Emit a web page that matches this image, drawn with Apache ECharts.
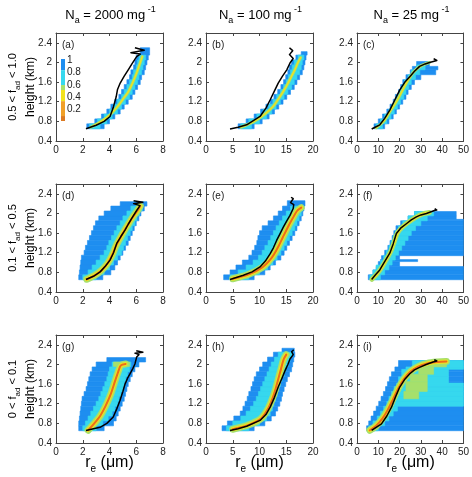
<!DOCTYPE html>
<html>
<head>
<meta charset="utf-8">
<script src="https://cdn.jsdelivr.net/npm/echarts@6/dist/echarts.min.js"></script>
<style>
  html, body { margin: 0; padding: 0; background: #fff; }
  #main { width: 472px; height: 477px; }
</style>
</head>
<body>
<div id="main"></div>
<script>
// column titles / row labels / panel letters
var colNa = ['2000', '100', '25'];
var rowFad = [['0.5', '1.0'], ['0.1', '0.5'], ['0', '0.1']];
var letters = ['(a)', '(b)', '(c)', '(d)', '(e)', '(f)', '(g)', '(h)', '(i)'];
var xMax = [8, 20, 50];
var xStep = [2, 5, 10];
var cbTicks = ['1', '0.8', '0.6', '0.4', '0.2'];

// histogram cells: [reLeft, reRight, hLow, hHigh]
var aBlue = [[2.3,3.6,0.65,0.75],[2.9,4.0,0.75,0.85],[3.4,4.4,0.85,0.95],[3.8,4.8,0.95,1.05],[4.1,5.1,1.05,1.15],[4.4,5.4,1.15,1.25],[4.7,5.7,1.25,1.35],[4.9,5.9,1.35,1.45],[5.1,6.1,1.45,1.55],[5.3,6.3,1.55,1.65],[5.5,6.4,1.65,1.75],[5.6,6.6,1.75,1.85],[5.8,6.7,1.85,1.95],[5.9,6.8,1.95,2.05],[6.0,6.9,2.05,2.15],[6.3,7.0,2.15,2.3]];
var aCyan = [[2.5,3.3,0.65,0.75],[3.1,3.8,0.75,0.85],[3.6,4.2,0.85,0.95],[4.0,4.6,0.95,1.05],[4.3,4.9,1.05,1.15],[4.6,5.2,1.15,1.25],[4.9,5.5,1.25,1.35],[5.1,5.7,1.35,1.45],[5.3,5.9,1.45,1.55],[5.5,6.1,1.55,1.65],[5.7,6.2,1.65,1.75],[5.8,6.4,1.75,1.85],[6.0,6.5,1.85,1.95],[6.1,6.6,1.95,2.05],[6.2,6.7,2.05,2.15]];
var aRidge = [[2.6,0.68],[3.4,0.8],[4.1,0.95],[4.6,1.1],[5.0,1.25],[5.4,1.4],[5.75,1.6],[6.05,1.8],[6.3,2.0],[6.45,2.12]];
var aBlack = [[2.24,0.65],[3.0,0.72],[3.6,0.8],[4.04,0.9],[4.3,1.1],[4.5,1.3],[4.6,1.45],[4.8,1.58],[5.1,1.72],[5.4,1.85],[5.7,1.98],[6.03,2.12],[6.3,2.17],[5.6,2.2],[6.6,2.25],[5.9,2.3]];

var bBlue = [[6.0,9.0,0.65,0.75],[7.5,10.5,0.75,0.85],[9.0,11.8,0.85,0.95],[10.2,12.8,0.95,1.05],[11.2,13.6,1.05,1.15],[12.0,14.4,1.15,1.25],[12.7,15.1,1.25,1.35],[13.4,15.8,1.35,1.45],[14.0,16.5,1.45,1.55],[14.5,17.0,1.55,1.65],[14.9,17.5,1.65,1.75],[15.3,18.0,1.75,1.85],[15.6,18.3,1.85,1.95],[16.0,18.5,1.95,2.05],[16.8,18.7,2.05,2.15],[17.8,18.9,2.15,2.22]];
var bCyan = [[6.5,8.5,0.65,0.75],[8.0,10.0,0.75,0.85],[9.5,11.3,0.85,0.95],[10.7,12.3,0.95,1.05],[11.7,13.1,1.05,1.15],[12.5,13.9,1.15,1.25],[13.2,14.6,1.25,1.35],[13.9,15.3,1.35,1.45],[14.5,16.0,1.45,1.55],[15.0,16.5,1.55,1.65],[15.4,17.0,1.65,1.75],[15.8,17.5,1.75,1.85],[16.1,17.8,1.85,1.95],[16.5,18.0,1.95,2.05],[17.2,18.3,2.05,2.15]];
var bRidge = [[6.5,0.68],[9,0.8],[11,0.95],[12.5,1.1],[13.5,1.25],[14.4,1.4],[15.2,1.55],[15.9,1.7],[16.6,1.85],[17.2,2.0],[17.7,2.1]];
var bBlack = [[4.49,0.644],[6.0,0.68],[7.6,0.73],[10.1,0.9],[11.2,1.07],[12,1.24],[12.8,1.42],[13.5,1.58],[14.3,1.72],[15.1,1.85],[15.7,1.99],[16.3,2.08],[15.6,2.16],[16.2,2.24],[15.6,2.3]];

var cBlue = [[8,13,0.65,0.75],[10,15,0.75,0.85],[12,17,0.85,0.95],[14,18.5,0.95,1.05],[15.5,20,1.05,1.15],[17,21.5,1.15,1.25],[18,23,1.25,1.35],[19.5,24,1.35,1.45],[20.5,25.5,1.45,1.55],[21.5,27,1.55,1.65],[23,30,1.65,1.75],[25,37,1.75,1.85],[26,38,1.85,1.92],[28,34,1.92,2.02]];
var cCyan = [[9,12,0.65,0.75],[11,14,0.75,0.85],[13,16,0.85,0.95],[15,17.5,0.95,1.05],[16.5,19,1.05,1.15],[18,20.5,1.15,1.25],[19,22,1.25,1.35],[20.3,23,1.35,1.45],[21.3,24.3,1.45,1.55],[22.3,25.5,1.55,1.65],[24,27.5,1.65,1.75],[25.5,29.5,1.75,1.85],[28,32,1.85,1.95]];
var cRidge = [[9,0.67],[12.5,0.8],[15.5,1.0],[18.5,1.2],[21,1.4],[23.5,1.6],[26.5,1.8],[30,1.93],[34,2.0]];
var cBlack = [[6.9,0.644],[8.5,0.68],[10.7,0.73],[13,0.86],[15.4,1.03],[17.8,1.24],[20.1,1.44],[22.5,1.6],[24.8,1.71],[27,1.82],[29.4,1.92],[32,1.97],[34.1,2.0],[37.5,2.04],[36,2.08]];

var dBlue = [[1.7,3.5,0.65,0.75],[1.75,4.1,0.75,0.85],[1.8,4.4,0.85,0.95],[1.85,4.6,0.95,1.05],[1.9,4.8,1.05,1.15],[2.1,5.0,1.15,1.25],[2.2,5.2,1.25,1.35],[2.35,5.4,1.35,1.45],[2.5,5.55,1.45,1.55],[2.65,5.7,1.55,1.65],[2.8,5.85,1.65,1.75],[2.95,6.0,1.75,1.85],[3.2,6.2,1.85,1.95],[3.6,6.35,1.95,2.05],[4.1,6.6,2.05,2.15],[4.8,6.8,2.15,2.24]];
var dCyan = [[2.0,3.0,0.65,0.75],[2.4,3.6,0.75,0.85],[2.7,4.0,0.85,0.95],[3.0,4.3,0.95,1.05],[3.3,4.6,1.05,1.15],[3.6,4.9,1.15,1.25],[3.8,5.05,1.25,1.35],[3.95,5.2,1.35,1.45],[4.15,5.35,1.45,1.55],[4.35,5.55,1.55,1.65],[4.55,5.7,1.65,1.75],[4.8,5.9,1.75,1.85],[5.0,6.05,1.85,1.95],[5.3,6.25,1.95,2.05],[5.6,6.45,2.05,2.15]];
var dRidge = [[2.3,0.66],[2.9,0.74],[3.4,0.84],[3.85,0.98],[4.2,1.15],[4.5,1.35],[4.8,1.5],[5.15,1.67],[5.45,1.8],[5.75,1.93],[6.1,2.06],[6.3,2.15]];
var dBlack = [[2.24,0.655],[2.8,0.72],[3.3,0.81],[3.7,0.93],[4.04,1.05],[4.3,1.2],[4.54,1.39],[4.85,1.53],[5.16,1.66],[5.4,1.78],[5.66,1.9],[6.03,2.06],[6.28,2.16],[5.8,2.2],[6.5,2.23],[5.8,2.26]];

var eBlue = [[3.3,9.0,0.65,0.75],[4.5,11.0,0.75,0.85],[5.6,12.0,0.85,0.95],[6.8,13.0,0.95,1.05],[8.0,14.0,1.05,1.15],[8.6,14.6,1.15,1.25],[9.1,15.1,1.25,1.35],[9.5,15.6,1.35,1.45],[9.7,16.1,1.45,1.55],[10.0,16.6,1.55,1.65],[10.5,17.0,1.65,1.75],[11.6,17.4,1.75,1.85],[12.6,17.8,1.85,1.95],[13.5,18.1,1.95,2.05],[14.3,18.3,2.05,2.15],[15.2,18.5,2.15,2.26]];
var eCyan = [[4.5,8.0,0.65,0.75],[6.0,10.0,0.75,0.85],[7.5,11.5,0.85,0.95],[8.8,12.5,0.95,1.05],[9.8,13.3,1.05,1.15],[10.5,14.0,1.15,1.25],[11.0,14.6,1.25,1.35],[11.6,15.1,1.35,1.45],[12.1,15.6,1.45,1.55],[12.6,16.1,1.55,1.65],[13.1,16.6,1.65,1.75],[13.7,17.0,1.75,1.85],[14.3,17.4,1.85,1.95],[15.0,17.8,1.95,2.05],[15.8,18.1,2.05,2.15]];
var eRidge = [[5,0.67],[8,0.76],[10.5,0.9],[12.3,1.1],[13.4,1.3],[14.3,1.5],[15.2,1.7],[16.2,1.9],[17.0,2.05],[17.8,2.12]];
var eBlack = [[4.49,0.655],[6.97,0.74],[8.6,0.81],[10.1,0.91],[11.1,1.03],[12.0,1.18],[12.6,1.3],[13.2,1.45],[13.8,1.58],[14.45,1.72],[15.1,1.85],[15.7,1.96],[16.3,2.1],[16.4,2.18],[15.8,2.22],[16.3,2.3],[15.9,2.33]];

var fBlue = [[5.3,50,0.65,0.75],[7.5,50,0.75,0.85],[9,50,0.85,0.92],[10,20,0.92,1.02],[11,28.5,1.02,1.06],[11.5,20,1.06,1.14],[13,50,1.14,1.25],[14.5,50,1.25,1.35],[15.5,50,1.35,1.45],[16.5,50,1.45,1.55],[17.3,50,1.55,1.65],[18.3,50,1.65,1.75],[20.5,50,1.75,1.85],[24,50,1.85,1.88],[24,46.6,1.88,1.95],[27,46.6,1.95,2.04]];
var fCyan = [[6,11,0.65,0.75],[7.5,13,0.75,0.85],[9,15,0.85,0.95],[11,16.5,0.95,1.05],[12.5,18,1.05,1.15],[13.8,19.5,1.15,1.25],[15,21,1.25,1.35],[16,22.5,1.35,1.45],[17,24,1.45,1.55],[18,25.5,1.55,1.65],[19.5,27.5,1.65,1.75],[21.5,30,1.75,1.85],[24,33,1.85,1.95],[27,36,1.95,2.04]];
var fRidge = [[7,0.66],[9,0.75],[11,0.86],[13.5,1.04],[15.8,1.22],[17.5,1.42],[19,1.6],[21.5,1.73],[24.5,1.83],[28,1.93],[31,1.99],[34,2.02]];
var fBlack = [[6.87,0.655],[8.7,0.75],[10.7,0.85],[13,1.02],[15.4,1.19],[17,1.38],[18.5,1.59],[20.5,1.7],[23.2,1.79],[25.5,1.87],[27.9,1.93],[30,1.97],[32.6,2.0],[34.5,2.03],[36.4,2.06],[37.5,2.07],[36.5,2.1]];

var gBlue = [[1.7,3.6,0.65,0.75],[1.7,4.3,0.75,0.85],[1.75,4.5,0.85,0.95],[1.8,4.65,0.95,1.05],[1.85,4.8,1.05,1.15],[1.9,4.95,1.15,1.25],[1.95,5.1,1.25,1.35],[2.1,5.2,1.35,1.45],[2.25,5.3,1.45,1.55],[2.35,5.4,1.55,1.65],[2.45,5.55,1.65,1.75],[2.55,5.7,1.75,1.85],[2.7,5.9,1.85,1.95],[3.0,6.2,1.95,2.05],[3.8,6.7,2.05,2.14]];
var gCyan = [[2.0,3.0,0.65,0.75],[2.2,3.5,0.75,0.85],[2.4,3.9,0.85,0.95],[2.6,4.2,0.95,1.05],[2.8,4.4,1.05,1.15],[3.0,4.6,1.15,1.25],[3.2,4.7,1.25,1.35],[3.35,4.85,1.35,1.45],[3.5,5.0,1.45,1.55],[3.65,5.1,1.55,1.65],[3.8,5.2,1.65,1.75],[3.9,5.35,1.75,1.85],[4.0,5.5,1.85,1.95],[4.2,5.6,1.95,2.05]];
var gGreen = [[4.3,5.5,1.96,2.05]];
var gRidge = [[2.4,0.66],[2.8,0.78],[3.3,0.95],[3.7,1.15],[4.1,1.4],[4.4,1.65],[4.65,1.85],[4.85,1.98],[5.2,2.01]];
var gBlack = [[2.24,0.655],[2.8,0.69],[3.29,0.72],[3.8,0.8],[4.28,0.93],[4.55,1.1],[4.79,1.27],[5.0,1.45],[5.16,1.6],[5.35,1.72],[5.53,1.81],[5.75,1.92],[5.9,2.01],[6.03,2.15],[6.2,2.2],[5.9,2.23],[6.5,2.25],[6.0,2.28]];

var hBlue = [[3.0,9.0,0.65,0.75],[4.0,11.0,0.75,0.85],[5.2,12.2,0.85,0.95],[6.4,13.0,0.95,1.05],[6.9,13.4,1.05,1.15],[7.3,13.8,1.15,1.25],[7.7,14.1,1.25,1.35],[8.0,14.3,1.35,1.45],[8.4,14.6,1.45,1.55],[8.7,14.9,1.55,1.65],[9.0,15.2,1.65,1.75],[9.4,15.6,1.75,1.85],[10.0,16.0,1.85,1.95],[10.6,16.2,1.95,2.05],[11.5,16.4,2.05,2.15],[12.6,16.6,2.15,2.25],[14.2,16.5,2.25,2.33]];
var hCyan = [[3.8,8.0,0.65,0.75],[5.0,10.0,0.75,0.85],[6.5,11.3,0.85,0.95],[7.5,12.0,0.95,1.05],[8.3,12.4,1.05,1.15],[8.9,12.7,1.15,1.25],[9.4,13.0,1.25,1.35],[9.8,13.3,1.35,1.45],[10.2,13.6,1.45,1.55],[10.6,13.9,1.55,1.65],[11.0,14.2,1.65,1.75],[11.4,14.6,1.75,1.85],[11.8,14.9,1.85,1.95],[12.2,15.3,1.95,2.05],[12.8,15.7,2.05,2.15],[13.5,16.1,2.15,2.25]];
var hRidge = [[5,0.68],[8,0.77],[10.3,0.9],[11.6,1.1],[12.4,1.3],[13.0,1.5],[13.5,1.7],[14.0,1.9],[14.5,2.1],[15.0,2.2]];
var hBlack = [[4.49,0.655],[6,0.69],[7.6,0.74],[10.1,0.86],[11.2,0.98],[12.0,1.13],[12.8,1.33],[13.5,1.54],[14.2,1.72],[14.8,1.88],[15.3,2.0],[15.7,2.11],[16.3,2.2],[16.0,2.26],[16.4,2.3]];

var iBlue = [[4.5,50,0.65,0.75],[5.5,50,0.75,0.85],[6.6,50,0.85,0.95],[7.8,50,0.95,1.05],[9.0,50,1.05,1.15],[10.2,50,1.15,1.25],[11.3,50,1.25,1.35],[12.4,50,1.35,1.45],[13.4,50,1.45,1.55],[14.3,50,1.55,1.65],[15.2,50,1.65,1.75],[16.2,50,1.75,1.85],[17.8,50,1.85,1.95],[19.5,50,1.95,2.08]];
var iCyan = [[5.5,10,0.65,0.75],[7.5,13,0.75,0.85],[9.5,15,0.85,0.95],[11,17,0.95,1.05],[12.5,19,1.05,1.15],[14,50,1.15,1.25],[15,50,1.25,1.35],[16.2,50,1.35,1.45],[17.4,50,1.45,1.55],[18.6,50,1.55,1.62],[19.5,43,1.62,1.75],[21,43,1.75,1.9],[23,50,1.9,1.95],[26,50,1.95,2.08]];
var iGreen = [[22,29,1.3,1.45],[23,33,1.45,1.65],[25,33,1.65,1.8],[29,36,1.8,1.95],[34,42,1.95,2.06]];
var iRidge = [[6,0.66],[9,0.75],[12,0.9],[14.5,1.08],[17,1.3],[19.5,1.52],[22,1.7],[25,1.85],[28.5,1.95],[33,2.02],[38,2.05],[42,2.06]];
var iBlack = [[6.87,0.655],[9,0.72],[11.5,0.79],[14,0.95],[16.2,1.13],[18.2,1.35],[20.1,1.54],[22.5,1.7],[24.8,1.81],[27,1.89],[29.4,1.94],[32.5,2.0],[35.7,2.05],[37.5,2.07],[36.3,2.1]];

var panels = [
  { blue: aBlue, cyan: aCyan, green: null, ridge: aRidge, black: aBlack },
  { blue: bBlue, cyan: bCyan, green: null, ridge: bRidge, black: bBlack },
  { blue: cBlue, cyan: cCyan, green: null, ridge: cRidge, black: cBlack },
  { blue: dBlue, cyan: dCyan, green: null, ridge: dRidge, black: dBlack },
  { blue: eBlue, cyan: eCyan, green: null, ridge: eRidge, black: eBlack },
  { blue: fBlue, cyan: fCyan, green: null, ridge: fRidge, black: fBlack },
  { blue: gBlue, cyan: gCyan, green: gGreen, ridge: gRidge, black: gBlack },
  { blue: hBlue, cyan: hCyan, green: null, ridge: hRidge, black: hBlack },
  { blue: iBlue, cyan: iCyan, green: iGreen, ridge: iRidge, black: iBlack }
];
// ridge line widths: green, yellow, orange
var ridgeW = [[3,1.2,0],[3,1.2,0],[3,1.2,0],[7,4,2],[7,4,2],[5,2.5,0],[7,4,2],[7,4,2],[7,4,2]];

var BLUE = '#1e8ef0', CYAN = '#36d8ee', GREEN = '#a6e06c', YELLOW = '#f2e21c', ORANGE = '#ec6c1a';
var FONT = 'Liberation Sans';
var colLeft = [56, 206, 357], rowTop = [33, 184, 335], GW = 107, GH = 108;

function cellItem(params, api) {
  var a = api.coord([api.value(0), api.value(3)]);
  var b = api.coord([api.value(1), api.value(2)]);
  var c = api.visual('color');
  return {
    type: 'rect',
    shape: { x: a[0], y: a[1], width: b[0] - a[0], height: b[1] - a[1] },
    style: { fill: c, stroke: c, lineWidth: 0.6 }
  };
}

var grids = [], xAxes = [], yAxes = [], series = [], graphics = [];
var lineStyleAx = { color: '#444', width: 1 };

panels.forEach(function (pn, p) {
  var col = p % 3, row = Math.floor(p / 3);
  grids.push({ left: colLeft[col], top: rowTop[row], width: GW, height: GH });
  [0, 1].forEach(function (k) {
    xAxes.push({
      gridIndex: p, type: 'value', min: 0, max: xMax[col], interval: xStep[col],
      position: k ? 'top' : 'bottom',
      axisLine: { show: true, onZero: false, lineStyle: lineStyleAx },
      axisTick: { show: true, inside: true, length: 3, lineStyle: lineStyleAx },
      axisLabel: { show: !k, fontFamily: FONT, fontSize: 10, color: '#222', margin: 4 },
      splitLine: { show: false }
    });
    yAxes.push({
      gridIndex: p, type: 'value', min: 0.4, max: 2.6, interval: 0.4,
      position: k ? 'right' : 'left',
      axisLine: { show: true, onZero: false, lineStyle: lineStyleAx },
      axisTick: { show: true, inside: true, length: 3, lineStyle: lineStyleAx },
      axisLabel: { show: !k, showMaxLabel: false, fontFamily: FONT, fontSize: 10, color: '#222', margin: 4 },
      splitLine: { show: false }
    });
  });
  var xi = 2 * p, yi = 2 * p;
  [[pn.blue, BLUE], [pn.cyan, CYAN], [pn.green, GREEN]].forEach(function (layer, li) {
    if (!layer[0]) return;
    series.push({
      type: 'custom', xAxisIndex: xi, yAxisIndex: yi, renderItem: cellItem,
      itemStyle: { color: layer[1] }, encode: { x: [0, 1], y: [2, 3] },
      data: layer[0], clip: true, silent: true, z: 2 + li
    });
  });
  var w = ridgeW[p];
  [[w[0], GREEN], [w[1], YELLOW], [w[2], ORANGE]].forEach(function (r, ri) {
    if (!r[0]) return;
    series.push({
      type: 'line', xAxisIndex: xi, yAxisIndex: yi, data: pn.ridge, showSymbol: false,
      smooth: 0.3, silent: true, z: 6 + ri,
      lineStyle: { color: r[1], width: r[0], cap: 'round', join: 'round' }
    });
  });
  series.push({
    type: 'line', xAxisIndex: xi, yAxisIndex: yi, data: pn.black, showSymbol: false,
    silent: true, z: 10, lineStyle: { color: '#000', width: 1.5, join: 'round' }
  });
  graphics.push({
    type: 'text', x: colLeft[col] + 6, y: rowTop[row] + 12,
    style: { text: letters[p], font: '10px "' + FONT + '"', fill: '#222', verticalAlign: 'middle' }
  });
});

var rich = {
  m: { fontFamily: FONT, fontSize: 13, lineHeight: 20, verticalAlign: 'middle', color: '#000' },
  s: { fontFamily: FONT, fontSize: 9, lineHeight: 9, verticalAlign: 'bottom', color: '#000' },
  p: { fontFamily: FONT, fontSize: 9, lineHeight: 9, verticalAlign: 'top', color: '#000' },
  r: { fontFamily: FONT, fontSize: 11, lineHeight: 18, verticalAlign: 'middle', color: '#000' },
  rs: { fontFamily: FONT, fontSize: 8, lineHeight: 8, verticalAlign: 'bottom', color: '#000' },
  h: { fontFamily: FONT, fontSize: 12, lineHeight: 14, color: '#000' },
  x: { fontFamily: FONT, fontSize: 16, lineHeight: 22, verticalAlign: 'middle', color: '#000' },
  xs: { fontFamily: FONT, fontSize: 10, lineHeight: 10, verticalAlign: 'bottom', color: '#000' }
};

colNa.forEach(function (na, c) {
  graphics.push({
    type: 'text', x: colLeft[c] + GW / 2 + 1, y: 15,
    style: { text: '{m|N}{s|a}{m| = ' + na + ' mg}{p| -1}', rich: rich, align: 'center', verticalAlign: 'middle' }
  });
  graphics.push({
    type: 'text', x: colLeft[c] + GW / 2, y: 463,
    style: { text: '{x|r}{xs|e}{x| (\u03bcm)}', rich: rich, align: 'center', verticalAlign: 'middle' }
  });
});
rowFad.forEach(function (f, r) {
  graphics.push({
    type: 'text', x: 13, y: rowTop[r] + GH / 2, rotation: Math.PI / 2,
    style: { text: '{r|' + f[0] + ' < f}{rs|ad}{r| < ' + f[1] + '}', rich: rich, align: 'center', verticalAlign: 'middle' }
  });
  graphics.push({
    type: 'text', x: 31, y: rowTop[r] + GH / 2, rotation: Math.PI / 2,
    style: { text: '{h|height (km)}', rich: rich, align: 'center', verticalAlign: 'middle' }
  });
});

// colour bar inside panel (a)
var cbX = 61, cbTop = 59, cbH = 62;
var cbBands = [[1, 0.82, BLUE], [0.82, 0.58, CYAN], [0.58, 0.5, GREEN], [0.5, 0.32, YELLOW], [0.32, 0.08, '#f0a028'], [0.08, 0, '#dc7a22']];
cbBands.forEach(function (b) {
  graphics.push({
    type: 'rect', shape: { x: cbX, y: cbTop + (1 - b[0]) * cbH, width: 4, height: (b[0] - b[1]) * cbH },
    style: { fill: b[2] }
  });
});
cbTicks.forEach(function (t, i) {
  graphics.push({
    type: 'text', x: cbX + 6, y: cbTop + 1 + i * 0.2 * cbH,
    style: { text: t, font: '10px "' + FONT + '"', fill: '#222', verticalAlign: 'middle' }
  });
});

var chart = echarts.init(document.getElementById('main'));
chart.setOption({
  animation: false,
  backgroundColor: '#fff',
  grid: grids,
  xAxis: xAxes,
  yAxis: yAxes,
  series: series,
  graphic: graphics
});
</script>
</body>
</html>
